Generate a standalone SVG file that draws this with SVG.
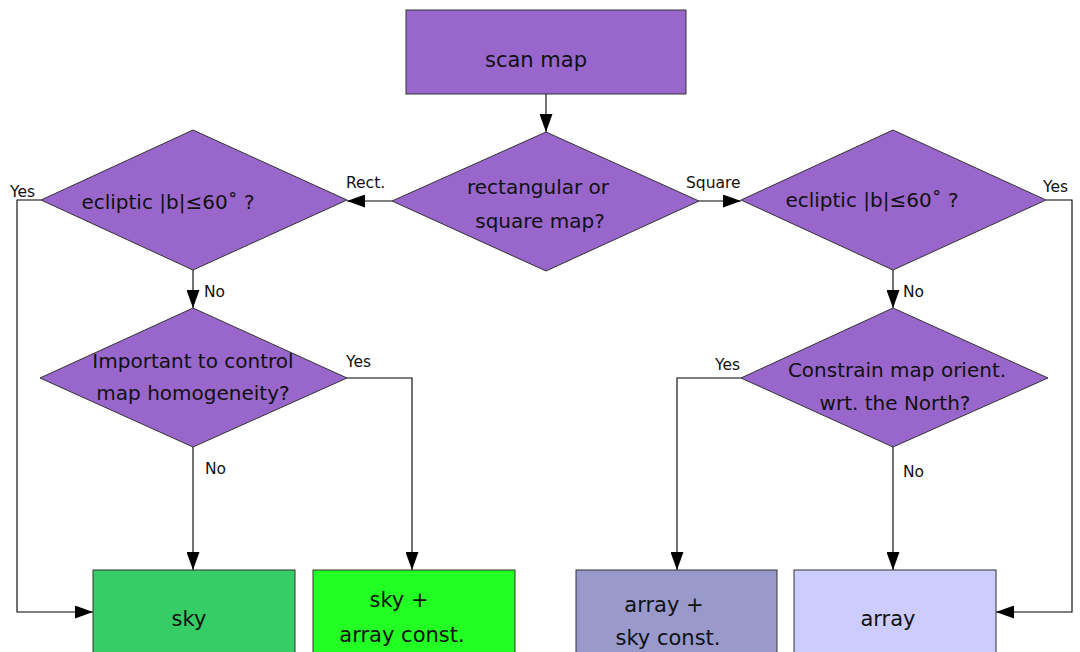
<svg xmlns="http://www.w3.org/2000/svg" width="1080" height="652" viewBox="0 0 1080 652">
<defs>
<marker id="ah" markerUnits="userSpaceOnUse" markerWidth="18" markerHeight="13" refX="18" refY="6.5" orient="auto">
<path d="M0,0 L18,6.5 L0,13 z" fill="#000"/>
</marker>
<style>
.box{stroke:#333;stroke-width:1}
.purple{fill:#9966CC}
.t{font-family:"DejaVu Sans","Liberation Sans",sans-serif;fill:#111;text-anchor:middle}
.big{font-size:21px}
.mid{font-size:20px}
.lbl{font-family:"DejaVu Sans","Liberation Sans",sans-serif;font-size:15.5px;fill:#111}
.c{fill:none;stroke:#000;stroke-width:1.1;marker-end:url(#ah)}
</style>
</defs>
<rect width="1080" height="652" fill="#fff"/>

<g id="connectors">
<path class="c" d="M546,94 L546,132"/>
<path class="c" d="M392,201 L347,201"/>
<path class="c" d="M699,201 L741,201"/>
<path class="c" d="M193,270 L193,308"/>
<path class="c" d="M893,270 L893,308"/>
<path class="c" d="M41,200 L17,200 L17,612 L93,612"/>
<path class="c" d="M1046,200 L1072,200 L1072,612 L996,612"/>
<path class="c" d="M347,378 L412,378 L412,570"/>
<path class="c" d="M193,447 L193,570"/>
<path class="c" d="M741,378 L677,378 L677,570"/>
<path class="c" d="M893,447 L893,570"/>
<text class="lbl" x="346" y="188">Rect.</text>
<text class="lbl" x="686" y="188">Square</text>
<text class="lbl" x="10" y="197">Yes</text>
<text class="lbl" x="1043" y="192">Yes</text>
<text class="lbl" x="204" y="297">No</text>
<text class="lbl" x="903" y="297">No</text>
<text class="lbl" x="346" y="367">Yes</text>
<text class="lbl" x="715" y="370">Yes</text>
<text class="lbl" x="205" y="474">No</text>
<text class="lbl" x="903" y="477">No</text>
</g>

<g id="scan-map">
<rect class="box purple" x="406" y="10" width="280" height="84"/>
<text class="t big" x="536" y="67">scan map</text>
</g>

<g id="map-shape">
<polygon class="box purple" points="392,201 546,132 699,201 546,271"/>
<text class="t mid" x="538" y="194">rectangular or</text>
<text class="t mid" x="540" y="228">square map?</text>
</g>

<g id="ecliptic-rect">
<polygon class="box purple" points="41,200 193,130 347,200 193,270"/>
<text class="t mid" x="168" y="209">ecliptic |b|≤60˚ ?</text>
</g>

<g id="ecliptic-square">
<polygon class="box purple" points="741,200 893,130 1046,200 893,270"/>
<text class="t mid" x="872" y="207">ecliptic |b|≤60˚ ?</text>
</g>

<g id="homogeneity">
<polygon class="box purple" points="40,378 193,308 347,378 193,447"/>
<text class="t mid" x="193" y="368">Important to control</text>
<text class="t mid" x="193" y="400">map homogeneity?</text>
</g>

<g id="orientation">
<polygon class="box purple" points="741,378 893,308 1048,378 893,447"/>
<text class="t mid" x="897" y="377">Constrain map orient.</text>
<text class="t mid" x="895" y="410">wrt. the North?</text>
</g>

<g id="sky">
<rect class="box" fill="#36CC66" x="93" y="570" width="202" height="100"/>
<text class="t big" x="189" y="626">sky</text>
</g>

<g id="sky-array-const">
<rect class="box" fill="#22FF22" x="313" y="570" width="202" height="100"/>
<text class="t big" x="399" y="607">sky +</text>
<text class="t big" x="402" y="642">array const.</text>
</g>

<g id="array-sky-const">
<rect class="box" fill="#9999CC" x="576" y="570" width="201" height="100"/>
<text class="t big" x="664" y="612">array +</text>
<text class="t big" x="668" y="645">sky const.</text>
</g>

<g id="array">
<rect class="box" fill="#CCCCFF" x="794" y="570" width="202" height="100"/>
<text class="t big" x="888" y="626">array</text>
</g>
</svg>
